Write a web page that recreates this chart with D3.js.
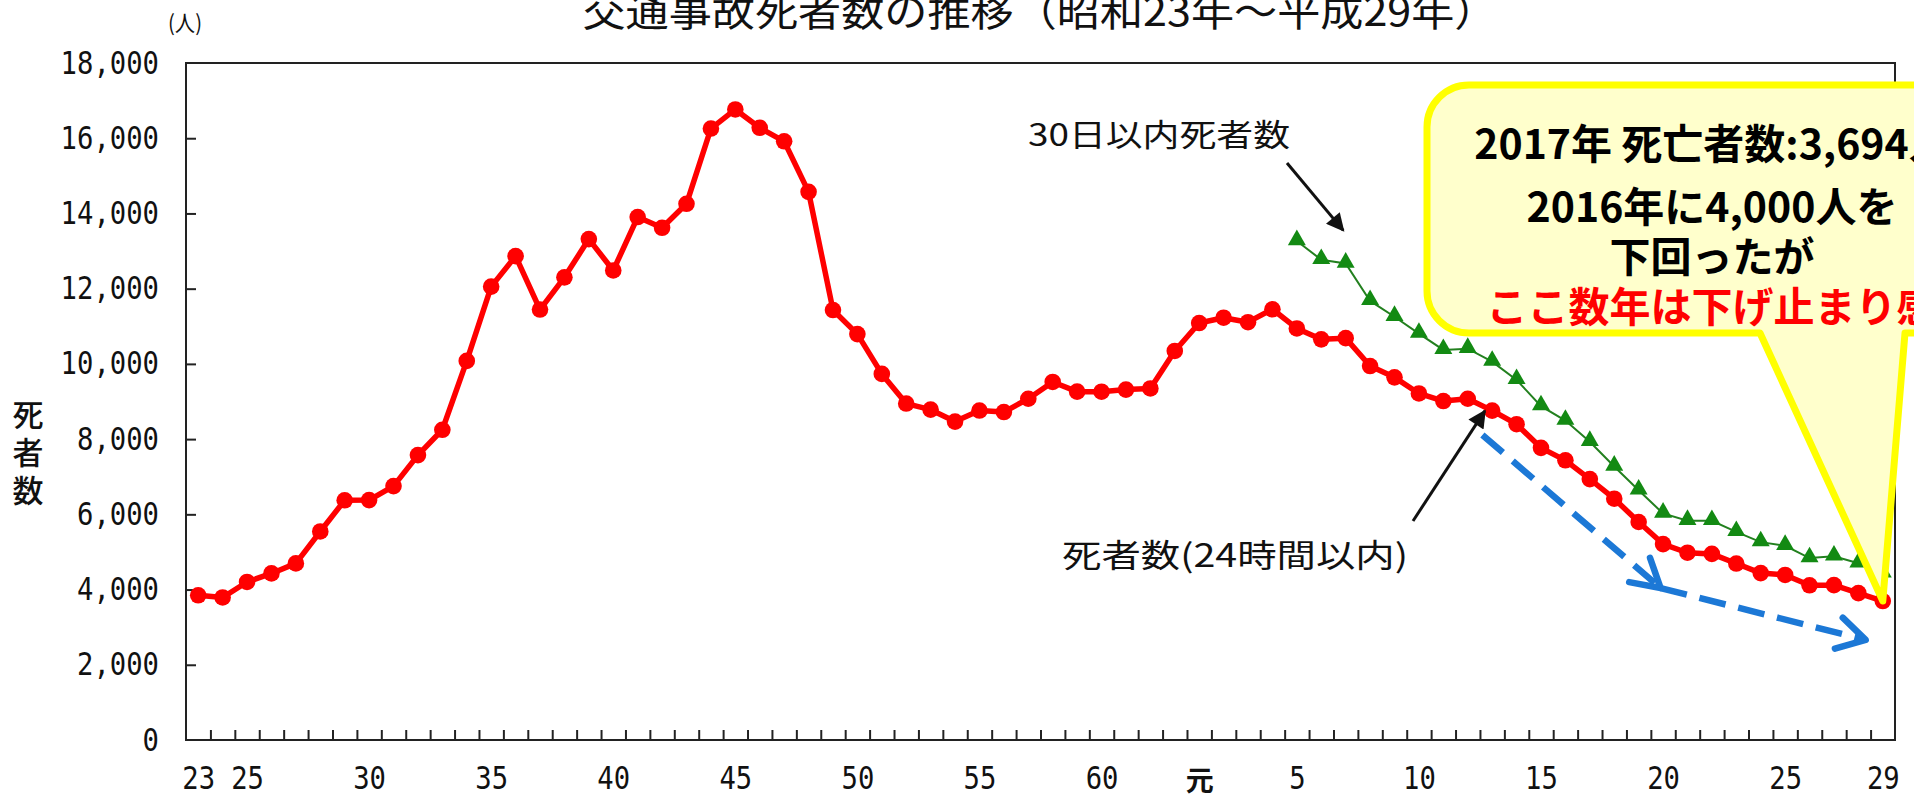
<!DOCTYPE html>
<html>
<head>
<meta charset="utf-8">
<script src="https://cdn.jsdelivr.net/npm/d3@7"></script>
<style>
  html, body { margin: 0; padding: 0; background: #fff; overflow: hidden; }
  svg { display: block; }
  .num { font-family: "DejaVu Sans Mono", "Liberation Mono", monospace; fill: #111; }
  .jp { font-family: "Noto Sans CJK JP", sans-serif; fill: #111; }
</style>
</head>
<body>
<svg id="chart" width="1914" height="800"></svg>
<script>
// ---- data -------------------------------------------------------------
// Calendar years, Showa 23 (1948) to Heisei 29 (2017)
const years = [
  1948, 1949, 1950, 1951, 1952, 1953, 1954, 1955, 1956, 1957,
  1958, 1959, 1960, 1961, 1962, 1963, 1964, 1965, 1966, 1967,
  1968, 1969, 1970, 1971, 1972, 1973, 1974, 1975, 1976, 1977,
  1978, 1979, 1980, 1981, 1982, 1983, 1984, 1985, 1986, 1987,
  1988, 1989, 1990, 1991, 1992, 1993, 1994, 1995, 1996, 1997,
  1998, 1999, 2000, 2001, 2002, 2003, 2004, 2005, 2006, 2007,
  2008, 2009, 2010, 2011, 2012, 2013, 2014, 2015, 2016, 2017
];
// Deaths within 24 hours
const deaths24h = [
  3848, 3790, 4202, 4429, 4696, 5544, 6374, 6379, 6751, 7575,
  8248, 10079, 12055, 12865, 11445, 12301, 13318, 12484, 13904, 13618,
  14256, 16257, 16765, 16278, 15918, 14574, 11432, 10792, 9734, 8945,
  8783, 8466, 8760, 8719, 9073, 9520, 9262, 9261, 9317, 9347,
  10344, 11086, 11227, 11109, 11452, 10942, 10653, 10684, 9943, 9642,
  9214, 9012, 9073, 8757, 8396, 7768, 7436, 6937, 6415, 5796,
  5209, 4979, 4948, 4691, 4438, 4388, 4113, 4117, 3904, 3694
];
// Deaths within 30 days (recorded from 1993)
const years30d = [
  1993, 1994, 1995, 1996, 1997, 1998, 1999, 2000, 2001, 2002,
  2003, 2004, 2005, 2006, 2007, 2008, 2009, 2010, 2011, 2012,
  2013, 2014, 2015, 2016, 2017
];
const deaths30d = [
  13269, 12768, 12670, 11674, 11254, 10805, 10372, 10403, 10060, 9575,
  8877, 8492, 7931, 7272, 6639, 6023, 5831, 5828, 5535, 5261,
  5165, 4838, 4885, 4698, 4431
];
// Labelled years on the horizontal axis and their era captions
const labelYears = [1948, 1950, 1955, 1960, 1965, 1970, 1975, 1980, 1985, 1989, 1993, 1998, 2003, 2008, 2013, 2017];
const labelText  = ["23", "25", "30", "35", "40", "45", "50", "55", "60", "元", "5", "10", "15", "20", "25", "29"];
const yTicks = [0, 2000, 4000, 6000, 8000, 10000, 12000, 14000, 16000, 18000];

// ---- layout -----------------------------------------------------------
const svg = d3.select("#chart");
const plot = { left: 186, right: 1895, top: 63, bottom: 740 };
const charW = 16.4; // advance of one half-width glyph in axis labels

// one category slot per year; points sit in the middle of their slot
const x = d3.scaleLinear()
  .domain([years[0] - 0.5, years[years.length - 1] + 0.5])
  .range([plot.left, plot.right]);
const y = d3.scaleLinear().domain([0, 18000]).range([plot.bottom, plot.top]);

const s24 = years.map((yr, i) => ({ year: yr, value: deaths24h[i] }));
const s30 = years30d.map((yr, i) => ({ year: yr, value: deaths30d[i] }));

// ---- title and axis captions -------------------------------------------
svg.append("text").attr("class", "jp")
  .attr("x", 1040).attr("y", 26)
  .attr("text-anchor", "middle")
  .attr("font-size", 40)
  .attr("textLength", 915).attr("lengthAdjust", "spacingAndGlyphs")
  .text("交通事故死者数の推移（昭和23年～平成29年）");

svg.append("text").attr("class", "jp")
  .attr("x", 185).attr("y", 31)
  .attr("text-anchor", "middle")
  .attr("font-size", 22)
  .attr("textLength", 34).attr("lengthAdjust", "spacingAndGlyphs")
  .text("(人)");

const yTitle = svg.append("text").attr("class", "jp")
  .attr("text-anchor", "middle").attr("font-size", 31).attr("font-weight", 500);
["死", "者", "数"].forEach((ch, i) => {
  yTitle.append("tspan").attr("x", 28).attr("y", 426 + i * 38).text(ch);
});

// ---- frame and axes ----------------------------------------------------
svg.append("rect")
  .attr("x", plot.left).attr("y", plot.top)
  .attr("width", plot.right - plot.left).attr("height", plot.bottom - plot.top)
  .attr("fill", "none").attr("stroke", "#222").attr("stroke-width", 2);

// inward tick marks between year slots
const slotEdges = years.slice(1).map(yr => yr - 0.5);
svg.append("g")
  .attr("transform", `translate(0,${plot.bottom})`)
  .call(d3.axisBottom(x).tickValues(slotEdges).tickSize(-10).tickFormat(""))
  .call(g => g.select(".domain").remove())
  .call(g => g.selectAll("line").attr("stroke", "#222").attr("stroke-width", 2));

// era labels under the year slots
svg.append("g")
  .attr("transform", `translate(0,${plot.bottom})`)
  .call(d3.axisBottom(x).tickValues(labelYears).tickSize(0).tickPadding(27)
    .tickFormat((d, i) => labelText[i]))
  .call(g => g.select(".domain").remove())
  .call(g => g.selectAll("text")
    .attr("class", d => d === 1989 ? "jp" : "num")
    .attr("font-family", null)
    .attr("font-size", d => d === 1989 ? 28 : 31.5)
    .attr("font-weight", d => d === 1989 ? 700 : 400)
    .attr("dy", d => d === 1989 ? "0.84em" : "0.71em")
    .each(function (d) {
      if (d !== 1989) {
        d3.select(this)
          .attr("textLength", this.textContent.length * charW)
          .attr("lengthAdjust", "spacingAndGlyphs");
      }
    }));

svg.append("g")
  .attr("transform", `translate(${plot.left},0)`)
  .call(d3.axisLeft(y).tickValues(yTicks.slice(1, -1)).tickSize(-10).tickFormat(""))
  .call(g => g.select(".domain").remove())
  .call(g => g.selectAll("line").attr("stroke", "#222").attr("stroke-width", 2));

svg.append("g")
  .attr("transform", `translate(${plot.left},0)`)
  .call(d3.axisLeft(y).tickValues(yTicks).tickSize(0).tickPadding(27)
    .tickFormat(d3.format(",")))
  .call(g => g.select(".domain").remove())
  .call(g => g.selectAll("text")
    .attr("class", "num").attr("font-family", null).attr("font-size", 31.5)
    .each(function () {
      d3.select(this)
        .attr("textLength", this.textContent.length * charW)
        .attr("lengthAdjust", "spacingAndGlyphs");
    }));

// ---- series ------------------------------------------------------------
const line = d3.line().x(d => x(d.year)).y(d => y(d.value));

// 30-day deaths: thin green line with triangles
svg.append("path").datum(s30)
  .attr("d", line).attr("fill", "none")
  .attr("stroke", "#23801f").attr("stroke-width", 2);
svg.append("g").selectAll("path").data(s30).join("path")
  .attr("transform", d => `translate(${x(d.year)},${y(d.value) - 1})`)
  .attr("d", d3.symbol(d3.symbolTriangle).size(140))
  .attr("fill", "#138a13");

// 24-hour deaths: heavy red line with dots
svg.append("path").datum(s24)
  .attr("d", line).attr("fill", "none")
  .attr("stroke", "#ff0000").attr("stroke-width", 5.5)
  .attr("stroke-linejoin", "round");
svg.append("g").selectAll("circle").data(s24).join("circle")
  .attr("cx", d => x(d.year)).attr("cy", d => y(d.value))
  .attr("r", 8.3).attr("fill", "#ff0000");

// ---- annotations -------------------------------------------------------
const defs = svg.append("defs");
defs.append("marker")
  .attr("id", "head").attr("viewBox", "0 0 10 10")
  .attr("refX", 9).attr("refY", 5)
  .attr("markerWidth", 6.5).attr("markerHeight", 6)
  .attr("markerUnits", "strokeWidth").attr("orient", "auto")
  .append("path").attr("d", "M0,0 L10,5 L0,10 Z").attr("fill", "#111");

// label for the 30-day series and its pointer
svg.append("text").attr("class", "jp")
  .attr("x", 1028).attr("y", 146).attr("font-size", 31)
  .attr("textLength", 262).attr("lengthAdjust", "spacingAndGlyphs")
  .text("30日以内死者数");
svg.append("line")
  .attr("x1", 1287).attr("y1", 163)
  .attr("x2", x(1994.9)).attr("y2", y(13550))
  .attr("stroke", "#111").attr("stroke-width", 3)
  .attr("marker-end", "url(#head)");

// label for the 24-hour series and its pointer
svg.append("text").attr("class", "jp")
  .attr("x", 1062).attr("y", 567).attr("font-size", 32)
  .attr("textLength", 346).attr("lengthAdjust", "spacingAndGlyphs")
  .text("死者数(24時間以内)");
svg.append("line")
  .attr("x1", 1413).attr("y1", 521)
  .attr("x2", x(2000.7)).attr("y2", y(8750))
  .attr("stroke", "#111").attr("stroke-width", 3)
  .attr("marker-end", "url(#head)");

// blue dashed trend arrows (steep fall, then flattening)
const trend = [[2000.6, 8110], [2007.9, 4040], [2016.3, 2660]]
  .map(([yr, v]) => [x(yr), y(v)]);
const blue = "#1c78d6";
function chevron(from, to) {
  const a = Math.atan2(to[1] - from[1], to[0] - from[0]);
  const L = 32, spread = Math.PI / 6;
  const p1 = [to[0] - L * Math.cos(a - spread), to[1] - L * Math.sin(a - spread)];
  const p2 = [to[0] - L * Math.cos(a + spread), to[1] - L * Math.sin(a + spread)];
  return `M${p1}L${to}L${p2}`;
}
for (let i = 0; i < trend.length - 1; i++) {
  const a = trend[i], b = trend[i + 1];
  const ang = Math.atan2(b[1] - a[1], b[0] - a[0]);
  svg.append("line")
    .attr("x1", a[0]).attr("y1", a[1])
    .attr("x2", b[0] - 6 * Math.cos(ang)).attr("y2", b[1] - 6 * Math.sin(ang))
    .attr("stroke", blue).attr("stroke-width", 6.5)
    .attr("stroke-dasharray", "27 13");
  svg.append("path").attr("d", chevron(a, b))
    .attr("fill", "none").attr("stroke", blue).attr("stroke-width", 6.5)
    .attr("stroke-linecap", "round").attr("stroke-linejoin", "round");
}

// speech-bubble callout pointing at the latest year
const lastYear = years[years.length - 1];
const lastVal = deaths24h[deaths24h.length - 1];
const tip = [x(lastYear), y(lastVal)];
const bx0 = 1427, by0 = 85, bx1 = 1990, by1 = 333, r = 42;
const bubble = d3.path();
bubble.moveTo(bx0 + r, by0);
bubble.lineTo(bx1, by0);
bubble.lineTo(bx1, by1);
bubble.lineTo(1905, by1);
bubble.lineTo(tip[0], tip[1]);
bubble.lineTo(1760, by1);
bubble.lineTo(bx0 + r, by1);
bubble.arcTo(bx0, by1, bx0, by1 - r, r);
bubble.lineTo(bx0, by0 + r);
bubble.arcTo(bx0, by0, bx0 + r, by0, r);
bubble.closePath();
svg.append("path").attr("d", bubble.toString())
  .attr("fill", "#ffffcc").attr("stroke", "#ffff00")
  .attr("stroke-width", 7).attr("stroke-linejoin", "round");

const bubbleLines = [
  { text: `${lastYear}年 死亡者数:${d3.format(",")(lastVal)}人`, y: 159, color: "#000" },
  { text: "2016年に4,000人を", y: 222, color: "#000" },
  { text: "下回ったが", y: 272, color: "#000" },
  { text: "ここ数年は下げ止まり感", y: 322, color: "#ff0000" }
];
svg.append("g").selectAll("text").data(bubbleLines).join("text")
  .attr("class", "jp")
  .attr("x", 1712).attr("y", d => d.y)
  .attr("text-anchor", "middle")
  .attr("font-size", 41).attr("font-weight", 700)
  .style("fill", d => d.color)
  .text(d => d.text);
</script>
</body>
</html>
